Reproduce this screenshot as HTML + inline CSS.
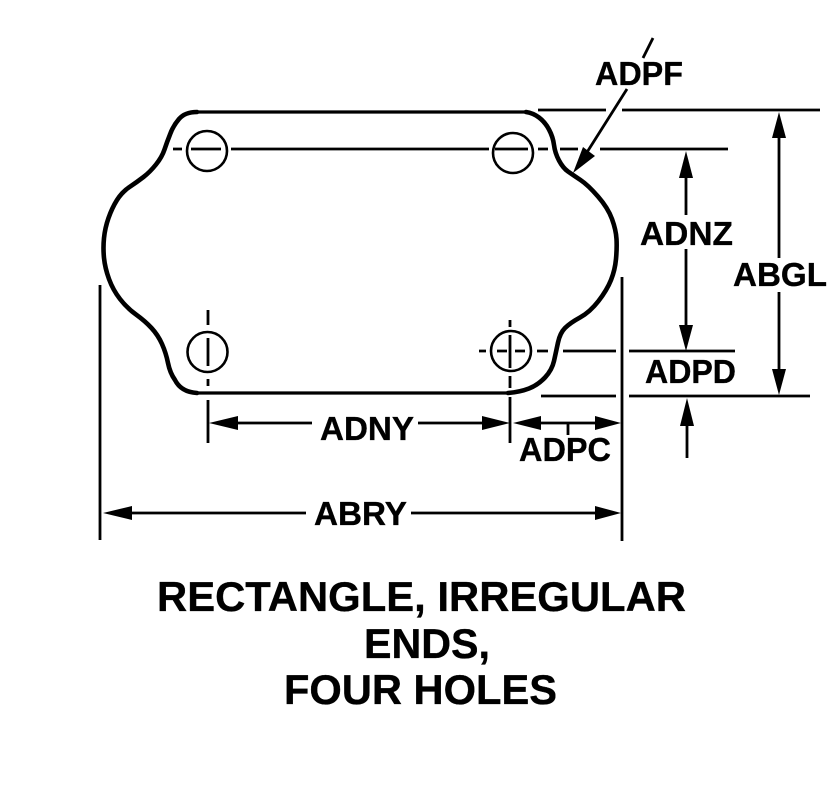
<!DOCTYPE html>
<html>
<head>
<meta charset="utf-8">
<style>
html,body{margin:0;padding:0;background:#fff;width:838px;height:795px;overflow:hidden}
svg{display:block}
text{font-family:"Liberation Sans",sans-serif;font-weight:bold;font-size:33.5px;fill:#000;stroke:#000;stroke-width:.35}
</style>
</head>
<body>
<svg width="838" height="795" viewBox="0 0 838 795" xmlns="http://www.w3.org/2000/svg">
<g fill="none" stroke="#000" stroke-linejoin="round">
<path stroke-width="3.2" d="M198 112H526M198 393H508"/>
<path stroke-width="4.600" stroke-linecap="round" d="M197 112Q185 112 179 119Q173 126 170 134.500Q167 142 164.500 149.500Q162 157 156 164.500Q150 172 143.500 177Q137 182 129.500 187Q122 192 117 200Q112 208 108.500 218Q105 228 104 238Q103 248 104 258Q105 268 109 279Q113 290 120 299Q127 308 136 314.500Q145 321 151.500 328Q158 335 162 344Q166 353 168 363Q170 373 175 380Q181 392 197 393"/>
<path stroke-width="4.600" stroke-linecap="round" d="M526 112Q533 113 539 117.500Q545 122 549 129.500Q553 137 554 145Q555 153 559 160.500Q563 168 568 171.500Q573 175 580.500 180Q588 185 598 196.500Q608 208 612 219Q616 230 616.500 239Q617 248 616 259Q615 270 611 280Q607 290 598.500 301Q590 312 580 317.500Q570 323 565 328Q560 333 558 342.500Q556 352 554 361Q552 370 545 377.500Q538 385 529 388.500Q520 392 508 393"/>
</g>
<g fill="none" stroke="#000" stroke-width="2.6">
<circle cx="207" cy="151" r="20"/>
<circle cx="207.500" cy="352" r="20"/>
<circle cx="513" cy="153" r="20"/>
<circle cx="511" cy="351" r="20"/>
</g>
<g stroke="#000" stroke-width="2.8" fill="none">
<path d="M538 110H606M622 110H820"/>
<path d="M173 149H182M191 149H221M231 149H489M495 149H528M538 149H548M560 149H578M600 149H728"/>
<path d="M208 310V325M208 338V366M208 379V386M208 400V443"/>
<path d="M510 320V327M510 335V368M510 376V388M510 397V443"/>
<path d="M479 351H486M497 351H507M515 351H525M537 351H548M563 351H616M629 351H735"/>
<path d="M541 396H616M629 396H810"/>
<path d="M622 277V541M100 285V540"/>
<path d="M653 38L643 58M627 89L584 157"/>
<path d="M686 175V215M686 249V328"/>
<path d="M687 424V458"/>
<path d="M779 135V258M779 292V372"/>
<path d="M236 423H312M418 423H484M539 423H597M568 423V435"/>
<path d="M130 513H306M411 513H597"/>
</g>
<g fill="#000" stroke="none">
<path d="M573 173L583 147L595 156Z"/>
<path d="M686 151L679 178H693Z"/>
<path d="M686 351L679 325H693Z"/>
<path d="M687 398L680 426H694Z"/>
<path d="M779 112L772 138H786Z"/>
<path d="M779 395L772 369H786Z"/>
<path d="M209 423L238 416V430Z"/>
<path d="M510 423L482 416V430Z"/>
<path d="M513 423L541 416V430Z"/>
<path d="M621 423L595 416V430Z"/>
<path d="M103 513L132 506V520Z"/>
<path d="M621 513L595 506V520Z"/>
</g>
<text x="595" y="85" textLength="88" lengthAdjust="spacingAndGlyphs">ADPF</text>
<text x="640" y="245" textLength="93" lengthAdjust="spacingAndGlyphs">ADNZ</text>
<text x="733" y="286" textLength="94" lengthAdjust="spacingAndGlyphs">ABGL</text>
<text x="645" y="383" textLength="91" lengthAdjust="spacingAndGlyphs">ADPD</text>
<text x="519" y="461" textLength="92" lengthAdjust="spacingAndGlyphs">ADPC</text>
<text x="320" y="440" textLength="94" lengthAdjust="spacingAndGlyphs">ADNY</text>
<text x="314" y="525" textLength="93" lengthAdjust="spacingAndGlyphs">ABRY</text>
<text x="157" y="611" textLength="529" lengthAdjust="spacingAndGlyphs" style="font-size:41.6px">RECTANGLE, IRREGULAR</text>
<text x="364" y="658" textLength="126" lengthAdjust="spacingAndGlyphs" style="font-size:41.6px">ENDS,</text>
<text x="284" y="704" textLength="273" lengthAdjust="spacingAndGlyphs" style="font-size:41.6px">FOUR HOLES</text>
</svg>
</body>
</html>
